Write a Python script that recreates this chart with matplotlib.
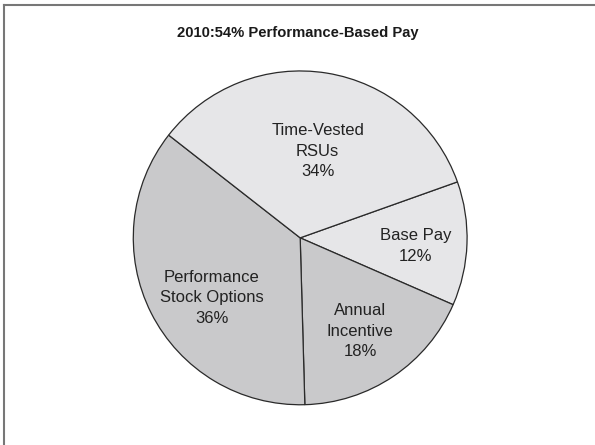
import matplotlib.pyplot as plt
from matplotlib.lines import Line2D

plt.rcParams['font.family'] = ['Liberation Sans', 'DejaVu Sans']

labels = ["Base Pay", "Annual\nIncentive", "Performance\nStock Options", "Time-Vested\nRSUs"]
shares = [12, 18, 36, 34]
colors = ["#e6e6e8", "#c9c9cb", "#c9c9cb", "#e6e6e8"]
# where each label sits inside its wedge (pie radius = 1)
label_xy = [(0.69, -0.05), (0.36, -0.56), (-0.53, -0.36), (0.105, 0.52)]

fig = plt.figure(figsize=(5.95, 4.45), dpi=100)
ax = fig.add_axes([0.224, 0.090, 0.561, 0.751])

wedges, _ = ax.pie(shares, colors=colors, startangle=19.6, counterclock=False,
                   radius=1, wedgeprops=dict(edgecolor="#2a2a2a", linewidth=0.9))
ax.set_xlim(-1, 1)
ax.set_ylim(-1, 1)

for lab, val, (x, y) in zip(labels, shares, label_xy):
    ax.text(x, y, "{0}\n{1}%".format(lab, val), ha="center", va="center",
            fontsize=12, color="#222222", linespacing=1.45)

fig.text(0.501, 0.925, "2010:54% Performance-Based Pay", ha="center", va="center",
         fontsize=10.6, fontweight="bold", color="#1a1a1a")

# border on the left and top edges
fig.add_artist(Line2D([0.006, 0.006], [0, 0.989], transform=fig.transFigure,
                      color="#777777", linewidth=1.5))
fig.add_artist(Line2D([0.006, 1], [0.989, 0.989], transform=fig.transFigure,
                      color="#777777", linewidth=1.5))

fig.savefig("out.png", dpi=100)
